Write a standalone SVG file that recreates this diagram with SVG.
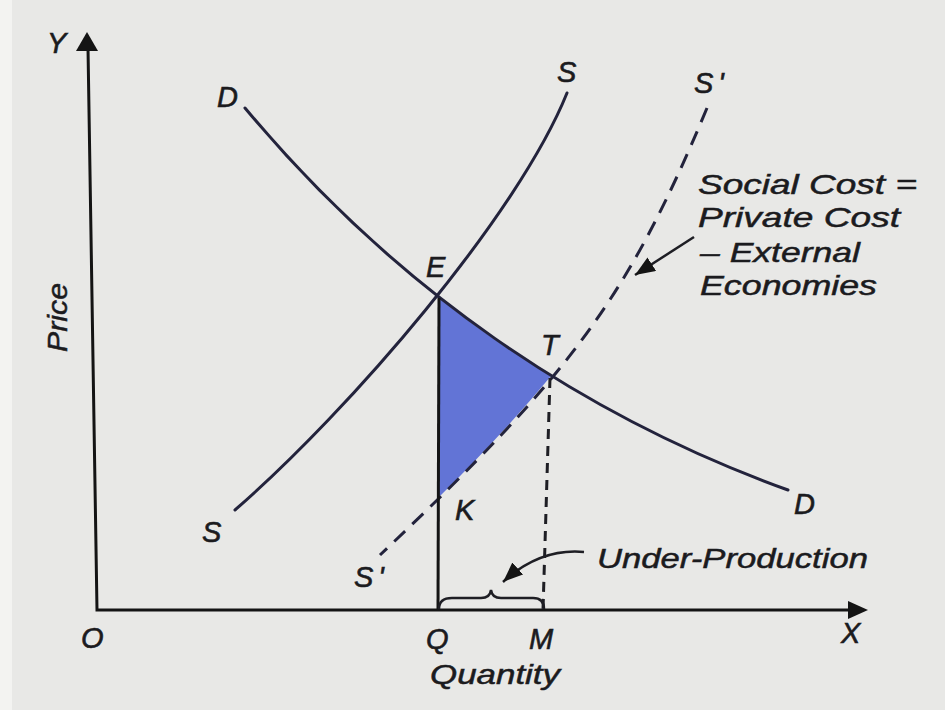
<svg xmlns="http://www.w3.org/2000/svg" width="945" height="710" viewBox="0 0 945 710">
  <style>
    .lbl { font-family: "Liberation Sans", Arial, sans-serif; font-style: italic; font-size: 29px; fill: #1b1b1e; stroke: #1b1b1e; stroke-width: 0.6px; }
    .txt { font-family: "Liberation Sans", Arial, sans-serif; font-style: italic; font-size: 28px; fill: #1b1b1e; stroke: #1b1b1e; stroke-width: 0.5px; }
    .axis { stroke: #141414; stroke-width: 3; fill: none; }
    .curve { stroke: #23233c; stroke-width: 3; fill: none; stroke-linecap: round; }
    .dash { stroke: #23233c; stroke-width: 3; fill: none; stroke-dasharray: 15 10; }
    .vdash { stroke: #1e1e24; stroke-width: 3; fill: none; stroke-dasharray: 10 7; }
    .thin { stroke: #1e1e24; stroke-width: 2.5; fill: none; }
  </style>
  <defs>
    <marker id="ah" markerUnits="userSpaceOnUse" markerWidth="24" markerHeight="18" refX="20" refY="8" orient="auto">
      <path d="M0,0 L20,8 L0,16 Z" fill="#141414"/>
    </marker>
  </defs>

  <!-- background -->
  <rect x="0" y="0" width="945" height="710" fill="#e8e8e6"/>
  <rect x="0" y="0" width="12" height="710" fill="#f3f3f1"/>

  <!-- shaded triangle -->
  <path id="shade" d="M439,298 Q490,339 551,376 Q502,435 439,497 Z" fill="#6274d6"/>

  <!-- axes -->
  <g id="axes">
    <path class="axis" d="M88,48 L97,610 L852,610"/>
    <path d="M87,32 L98,51 L76,51 Z" fill="#141414"/>
    <path d="M868,610 L848,601 L848,619 Z" fill="#141414"/>
  </g>

  <!-- curves -->
  <g id="connectors">
    <path id="D" class="curve" d="M245,108 C395,288 580,415 788,490"/>
    <path id="S" class="curve" d="M567,93 C518,215 350,410 235,510"/>
    <path id="S2" class="dash" d="M707,108 C627,300 570,375 380,555"/>
    <path id="EQ" class="axis" d="M439,298 L438,610"/>
    <path id="TM" class="vdash" d="M550,378 L543,610"/>
    <path id="brace" class="thin" d="M439,609 Q439,598 452,598 L481,598 Q490,598 491,590 Q492,598 501,598 L533,598 Q544,598 544,609"/>
    <path id="arrowUP" class="thin" d="M584,552 Q540,548 503,582" marker-end="url(#ah)"/>
    <path id="arrowSC" class="thin" d="M694,237 L635,275" marker-end="url(#ah)"/>
  </g>

  <!-- labels -->
  <g id="labels">
    <text class="lbl" x="47" y="53">Y</text>
    <text class="lbl" x="217" y="107">D</text>
    <text class="lbl" x="557" y="82">S</text>
    <text class="lbl" x="694" y="93">S<tspan dx="5">'</tspan></text>
    <text class="lbl" x="426" y="277">E</text>
    <text class="lbl" x="541" y="355">T</text>
    <text class="lbl" x="455" y="520">K</text>
    <text class="lbl" x="794" y="514">D</text>
    <text class="lbl" x="202" y="542">S</text>
    <text class="lbl" x="354" y="587">S<tspan dx="5">'</tspan></text>
    <text class="lbl" x="81" y="648">O</text>
    <text class="lbl" x="426" y="649">Q</text>
    <text class="lbl" x="529" y="649">M</text>
    <text class="lbl" x="841" y="643">X</text>
    <text class="txt" transform="translate(67,352) rotate(-90)" textLength="69" lengthAdjust="spacingAndGlyphs">Price</text>
    <text class="txt" x="430" y="684" textLength="130" lengthAdjust="spacingAndGlyphs">Quantity</text>
    <text class="txt" x="597" y="568" textLength="271" lengthAdjust="spacingAndGlyphs">Under-Production</text>
    <text class="txt" x="698" y="194" textLength="219" lengthAdjust="spacingAndGlyphs">Social Cost =</text>
    <text class="txt" x="698" y="227" textLength="202" lengthAdjust="spacingAndGlyphs">Private Cost</text>
    <text class="txt" x="700" y="262" textLength="160" lengthAdjust="spacingAndGlyphs">– External</text>
    <text class="txt" x="700" y="295" textLength="177" lengthAdjust="spacingAndGlyphs">Economies</text>
  </g>
</svg>
